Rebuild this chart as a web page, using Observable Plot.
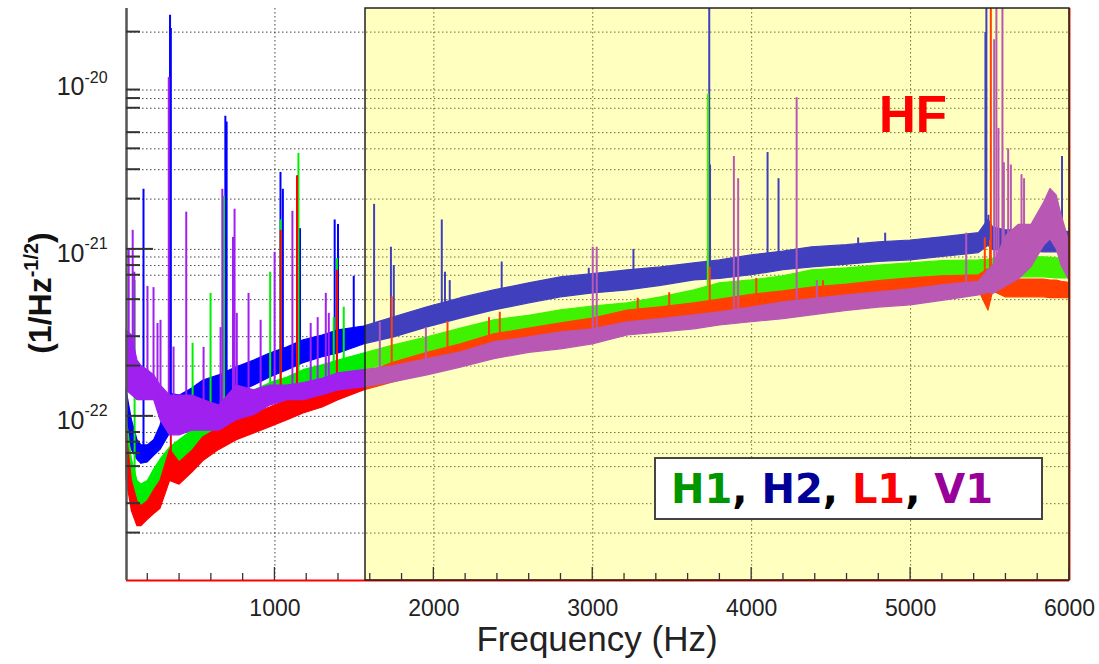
<!DOCTYPE html>
<html><head><meta charset="utf-8">
<script src="https://cdn.jsdelivr.net/npm/d3@7"></script>
<script src="https://cdn.jsdelivr.net/npm/@observablehq/plot@0.6"></script>
<style>body{margin:0;background:#fff} svg{display:block}</style>
</head><body><div id="chart"></div>
<script>
// ---------- data (strain values in units of 1e-22 /sqrt(Hz)) ----------
const UNIT = 1e-22;
const xDomain = [66, 6000];
const yDomain = [1.04e-23, 2.77e-20];
const hfBand = [1570, 6000];
const xMajor = [1000, 2000, 3000, 4000, 5000, 6000];
const xMinor = [200, 400, 600, 800, 1200, 1400, 1600, 1800, 2200, 2400, 2600, 2800, 3200, 3400, 3600, 3800, 4200, 4400, 4600, 4800, 5200, 5400, 5600, 5800];
const xGrid = [1000, 2000, 3000, 4000, 5000];
const yMajor = [1e-22, 1e-21, 1e-20];
const yGrid = [2e-20, 9e-21, 8e-21, 7e-21, 5e-21, 4e-21, 3e-21, 2e-21, 1e-21, 9e-22, 8e-22, 7e-22, 5e-22, 3e-22, 2e-22, 1e-22, 8e-23, 7e-23, 6e-23, 5e-23, 3e-23, 2e-23];

const freq = [66,100,135,160,200,240,280,340,400,480,550,650,760,870,970,1080,1180,1300,1400,1560,1750,1960,2170,2380,2600,2800,3000,3220,3430,3640,3800,4000,4200,4380,4600,4800,5000,5200,5430,5490,5520,5600,5680,5760,5840,5880,5920,5950,6000];

const h2Lo = [0.82,0.63,0.55,0.52,0.53,0.58,0.63,0.79,0.82,0.91,1.04,1.16,1.37,1.53,1.71,1.89,2.08,2.26,2.38,2.7,2.97,3.41,3.85,4.31,4.75,5.16,5.45,5.68,6.05,6.52,6.65,7.0,7.5,7.8,8.1,8.4,8.6,9.0,9.5,10.5,9.9,9.9,9.8,9.7,9.6,9.6,9.6,9.6,9.6];
const h2Hi = [1.43,0.95,0.72,0.67,0.67,0.72,0.88,1.37,1.33,1.47,1.64,1.76,1.97,2.16,2.38,2.59,2.85,3.05,3.27,3.45,3.92,4.5,5.1,5.68,6.26,6.8,7.1,7.49,7.8,8.25,8.59,9.2,9.7,10.3,10.6,11.0,11.3,11.8,12.5,15.0,13.5,13.0,13.0,13.2,13.0,13.0,12.9,12.8,12.7];

const h1Lo = [0.45,0.36,0.29,0.29,0.31,0.34,0.36,0.46,0.51,0.58,0.72,0.82,0.95,1.06,1.20,1.30,1.43,1.53,1.64,1.89,2.1,2.26,2.48,2.59,2.85,3.14,3.33,3.76,3.92,4.14,4.5,4.95,5.25,5.68,5.8,6.05,6.26,6.4,6.52,6.6,6.7,6.8,6.8,6.8,6.8,6.75,6.7,6.7,6.7];
const h1Hi = [1.0,0.55,0.41,0.39,0.41,0.48,0.55,0.65,0.72,0.82,0.99,1.13,1.30,1.43,1.58,1.71,1.89,2.02,2.16,2.38,2.66,2.97,3.35,3.76,4.0,4.31,4.55,4.75,5.16,5.68,6.26,6.52,6.9,7.49,7.7,8.0,8.25,8.5,8.59,8.7,8.8,8.96,8.96,8.96,8.96,8.9,8.85,8.85,8.8];

const l1Lo = [0.42,0.27,0.22,0.22,0.24,0.26,0.28,0.41,0.39,0.46,0.54,0.63,0.72,0.79,0.86,0.95,1.04,1.13,1.25,1.43,1.6,1.81,2.02,2.26,2.48,2.74,2.9,3.27,3.51,3.76,4.0,4.2,4.45,4.5,4.8,4.95,5.16,5.4,5.68,4.3,5.6,5.16,5.16,5.16,5.16,5.1,5.1,5.1,5.1];
const l1Hi = [0.82,0.41,0.31,0.29,0.31,0.36,0.41,0.63,0.53,0.62,0.75,0.85,0.95,1.04,1.13,1.25,1.37,1.49,1.64,1.8,2.1,2.4,2.7,3.1,3.35,3.6,3.85,4.3,4.5,4.75,5.0,5.35,5.6,5.9,6.15,6.45,6.7,6.9,7.0,7.6,7.3,6.6,6.6,6.6,6.6,6.5,6.5,6.4,6.3];

const v1Lo = [1.43,1.34,1.25,1.25,1.25,1.25,0.95,0.77,0.77,0.82,0.82,0.82,0.95,1.02,1.16,1.25,1.25,1.34,1.43,1.49,1.6,1.76,1.96,2.2,2.4,2.52,2.7,3.05,3.18,3.32,3.5,3.66,3.82,4.03,4.28,4.48,4.62,4.92,5.3,5.5,5.4,6.0,6.6,7.8,10.5,11.5,10.0,8.0,6.5];
const v1Hi = [3.27,3.05,2.16,2.0,1.89,1.76,1.53,1.33,1.33,1.33,1.25,1.16,1.53,1.43,1.53,1.53,1.58,1.68,1.81,1.89,2.0,2.2,2.42,2.78,2.97,3.18,3.32,3.66,3.82,4.03,4.2,4.48,4.82,5.03,5.3,5.53,5.76,6.1,6.4,7.5,8.0,12.0,14.0,14.0,19.0,23.0,21.0,16.0,11.0];

// spectral lines: [frequency Hz, peak value in 1e-22]
const h2Spikes = [[173,22.9],[340,252],[345,210],[688,62.6],[696,58],[1035,28.9],[1050,22.9],[1158,13.3],[1376,15],[1397,14.1],[1496,6.9],[1624,18.6],[1730,10.3],[1748,8.0],[2050,15],[2070,7.3],[2100,6.5],[2427,8.4],[2975,7.7],[3256,10],[3733,400],[3738,32],[4100,38],[4169,26.5],[4670,11.7],[4840,12.5],[5471,199],[5477,400],[5490,16],[5953,36]];
const h1Spikes = [[117,6.5],[482,2.74],[595,5.45],[679,20.8],[970,7.3],[1036,15],[1148,37.6],[1370,3.9],[1390,8.8],[1433,4.5],[3724,85]];
const l1Spikes = [[345,0.9],[1036,13.0],[1139,27.6],[1390,7.5],[1735,5.2],[2086,3.7],[2347,3.9],[2415,4.2],[3283,5.1],[3481,5.5],[3736,7.8],[4029,6.7],[4449,6.5],[5467,11.7],[5500,11.3],[5505,400]];
const v1Spikes = [[80,9.9],[105,13.0],[115,7.3],[198,6.0],[236,5.9],[261,3.6],[280,3.76],[332,107],[362,2.6],[442,16.7],[551,2.59],[658,3.4],[669,22.9],[736,11.8],[746,17.4],[760,4.14],[834,5.45],[910,3.76],[998,9.6],[1110,16.9],[1225,3.6],[1269,3.9],[1320,5.45],[1339,4.14],[1660,3.65],[1950,3.4],[3000,10.3],[3025,10.3],[3888,36],[3915,26.5],[4283,81],[4410,6.5],[5350,12.5],[5526,180],[5540,400],[5553,53],[5578,400],[5587,33],[5614,40],[5631,32],[5698,28],[5714,26.5]];

const seriesNames = ["H2", "H1", "L1", "V1"];   // drawing order
const curveColors = {H1: "#00ee00", H2: "#0000ff", L1: "#ff0000", V1: "#a020f0"};
const legendColors = {H1: "#009600", H2: "#000099", L1: "#ff0000", V1: "#990099"};
const legendOrder = ["H1", "H2", "L1", "V1"];
const bands = {H1: [h1Lo, h1Hi, h1Spikes], H2: [h2Lo, h2Hi, h2Spikes], L1: [l1Lo, l1Hi, l1Spikes], V1: [v1Lo, v1Hi, v1Spikes]};

// ---------- helpers ----------
function logInterp(fs, vs, f) {
  const i = d3.bisectRight(fs, f);
  if (i <= 0) return vs[0];
  if (i >= fs.length) return vs[vs.length - 1];
  const t = (f - fs[i - 1]) / (fs[i] - fs[i - 1]);
  return Math.exp(Math.log(vs[i - 1]) * (1 - t) + Math.log(vs[i]) * t);
}

const marks = [];
// grid
marks.push(Plot.ruleY(yGrid, {y: d => d, stroke: "#222", strokeDasharray: "1.5,2.5", strokeWidth: 1, strokeOpacity: 0.85}));
marks.push(Plot.ruleX(xGrid, {x: d => d, stroke: "#222", strokeDasharray: "1.5,2.5", strokeWidth: 1, strokeOpacity: 0.85}));

for (const name of seriesNames) {
  const [lo, hi, spikes] = bands[name];
  const rows = freq.map((f, i) => ({f, lo: lo[i] * UNIT, hi: hi[i] * UNIT}));
  const sp = spikes.map(([f, p]) => ({f, peak: p * UNIT,
    base: Math.sqrt(logInterp(freq, lo, f) * logInterp(freq, hi, f)) * UNIT}));
  marks.push(Plot.areaY(rows, {x: "f", y1: "lo", y2: "hi", fill: curveColors[name], stroke: curveColors[name], strokeWidth: 1.2}));
  marks.push(Plot.ruleX(sp, {x: "f", y1: "base", y2: "peak", stroke: curveColors[name], strokeWidth: 2, clip: true}));
}

// axis lines
marks.push(Plot.ruleY([yDomain[0]], {y: d => d, stroke: "#ff0000", strokeWidth: 2}));
marks.push(Plot.ruleX([xDomain[1]], {x: d => d, stroke: "#ff2000", strokeWidth: 2}));
// HF highlight overlay
marks.push(Plot.rect([hfBand], {x1: d => d[0], x2: d => d[1], y1: () => yDomain[0], y2: () => yDomain[1],
  fill: "#ffff00", fillOpacity: 0.25, stroke: "#222", strokeWidth: 1.5}));
marks.push(Plot.ruleX([xDomain[0]], {x: d => d, stroke: "#555", strokeWidth: 2.5}));

// tick labels
marks.push(Plot.axisX({ticks: xMajor, tickSize: 0, tickPadding: 19, tickFormat: d3.format("d"), fontSize: 23, fill: "#222", label: null}));
marks.push(Plot.text(yMajor, {y: d => d, frameAnchor: "left", text: () => "10", textAnchor: "end", dx: -42, dy: 5, fontSize: 25, fill: "#222"}));
marks.push(Plot.text(yMajor, {y: d => d, frameAnchor: "left", text: d => String(Math.round(Math.log10(d))), textAnchor: "start", dx: -42, dy: -5, fontSize: 16, fill: "#222"}));

const plot = Plot.plot({
  width: 1099, height: 664,
  marginLeft: 126, marginRight: 30, marginTop: 8, marginBottom: 84,
  style: {fontFamily: "'Liberation Sans', Arial, sans-serif", background: "#fff"},
  x: {type: "linear", domain: xDomain, axis: null},
  y: {type: "log", domain: yDomain, axis: null},
  marks
});

const svg = d3.select(plot);
const xs = plot.scale("x"), ys = plot.scale("y");
const y0 = ys.apply(yDomain[0]);
const xl = xs.apply(xDomain[0]);
const g = svg.append("g").attr("stroke", "#333").attr("stroke-width", 1.3);
for (const t of xMajor) g.append("line").attr("x1", xs.apply(t)).attr("x2", xs.apply(t)).attr("y1", y0).attr("y2", y0 - 13);
for (const t of xMinor) g.append("line").attr("x1", xs.apply(t)).attr("x2", xs.apply(t)).attr("y1", y0).attr("y2", y0 - 7);
for (const t of yGrid) {
  const len = yMajor.includes(t) ? 27 : 14;
  g.append("line").attr("x1", xl).attr("x2", xl + len).attr("y1", ys.apply(t)).attr("y2", ys.apply(t)).attr("stroke-width", 2);
}

const FONT = "'Liberation Sans', Arial, sans-serif";
// axis titles
svg.append("text").attr("x", 597).attr("y", 651).attr("text-anchor", "middle")
  .attr("font-size", 35).attr("fill", "#222").attr("font-family", FONT)
  .text("Frequency (Hz)");
const yt = svg.append("text").attr("transform", "translate(51,293) rotate(-90)").attr("text-anchor", "middle")
  .attr("font-size", 32).attr("font-weight", "bold").attr("fill", "#111").attr("font-family", FONT);
yt.append("tspan").text("(1/Hz");
yt.append("tspan").attr("font-size", 20).attr("dy", -13).text("-1/2");
yt.append("tspan").attr("dy", 13).text(")");

// HF label
svg.append("text").attr("x", 879).attr("y", 132).attr("text-anchor", "start").attr("font-size", 51).attr("font-weight", "bold")
  .attr("fill", "#ff0000").attr("font-family", FONT).text("HF");

// legend box
svg.append("rect").attr("x", 655).attr("y", 458).attr("width", 387).attr("height", 61)
  .attr("fill", "#fff").attr("stroke", "#444").attr("stroke-width", 2);
const lt = svg.append("text").attr("x", 671).attr("y", 503).attr("text-anchor", "start").attr("font-size", 40).attr("font-weight", "bold")
  .attr("font-family", "'DejaVu Sans', Verdana, sans-serif");
legendOrder.forEach((n, i) => {
  lt.append("tspan").attr("fill", legendColors[n]).text(n);
  if (i < legendOrder.length - 1) lt.append("tspan").attr("fill", "#000").text(", ");
});

document.getElementById("chart").appendChild(plot);
</script></body></html>
